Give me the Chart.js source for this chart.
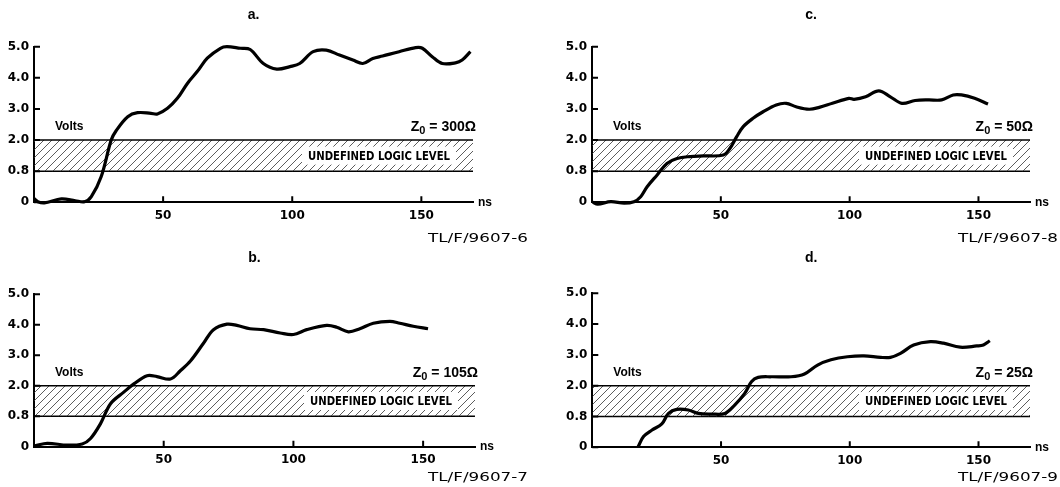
<!DOCTYPE html>
<html>
<head>
<meta charset="utf-8">
<script src="https://cdn.jsdelivr.net/npm/chart.js@4.4.1/dist/chart.umd.min.js"></script>
<style>
  body { margin: 0; background: #fff; width: 1060px; height: 487px; overflow: hidden; }
  .grid { display: grid; grid-template-columns: 530px 530px; grid-template-rows: 243px 244px; }
  canvas { display: block; }
</style>
</head>
<body>
<div class="grid">
  <div><canvas id="pa" width="530" height="243"></canvas></div>
  <div><canvas id="pc" width="530" height="243"></canvas></div>
  <div><canvas id="pb" width="530" height="244"></canvas></div>
  <div><canvas id="pd" width="530" height="244"></canvas></div>
</div>
<script>
// y axis is drawn with evenly spaced rows: 0, 0.8, 2.0, 3.0, 4.0, 5.0 volts
const yTickLabels = ['0', '0.8', '2.0', '3.0', '4.0', '5.0'];
const xTicks = [50, 100, 150];
const xRange = [0, 170];       // ns
const bandRows = [1, 2];       // 0.8 V .. 2.0 V, undefined logic level

// values in row units (row 1 = 0.8 V, row 2 = 2.0 V ...)
// a. Z0 = 300 ohm
const timeA = [0, 1.5, 4, 10.6, 16, 19.6, 22.2, 26, 29.9, 31.8, 36.3, 40.1, 45.3, 47.8, 51.7, 55.5, 59.4, 63.2, 67.1, 72.2, 74.7, 79.9, 83.7, 88.8, 94, 99.1, 102.9, 108.1, 113.2, 118.3, 123.5, 127.3, 131.2, 135, 141.4, 147.8, 150.4, 154.2, 158.1, 163.2, 165.8, 169];
const levelA = [0.12, 0.02, -0.02, 0.11, 0.05, 0.02, 0.18, 0.82, 2.0, 2.3, 2.75, 2.88, 2.86, 2.84, 3.02, 3.34, 3.82, 4.2, 4.63, 4.95, 5.0, 4.95, 4.91, 4.46, 4.28, 4.36, 4.46, 4.84, 4.89, 4.73, 4.57, 4.46, 4.62, 4.7, 4.84, 4.97, 4.95, 4.68, 4.46, 4.48, 4.57, 4.84];

// b. Z0 = 105 ohm
const timeB = [0.4, 5.1, 12.8, 18.6, 21.8, 25.6, 29.5, 34.6, 38.5, 43.6, 47.4, 52.6, 56.4, 60.3, 65.4, 69.2, 74.4, 78.2, 83.3, 88.5, 94.9, 100, 105.1, 112.8, 116.7, 121.2, 125.6, 130.8, 137.2, 141, 146.2, 151.9];
const levelB = [0.03, 0.11, 0.05, 0.09, 0.27, 0.75, 1.41, 1.79, 2.06, 2.33, 2.3, 2.22, 2.49, 2.81, 3.4, 3.84, 4.02, 3.98, 3.87, 3.84, 3.73, 3.68, 3.84, 3.98, 3.92, 3.77, 3.87, 4.05, 4.11, 4.05, 3.95, 3.87];

// c. Z0 = 50 ohm
const timeC = [0.3, 2.2, 7.3, 12.5, 16.3, 18.9, 21.4, 25.3, 29.1, 33, 38.1, 43.3, 51, 53.5, 56.1, 58.7, 62.5, 66.4, 71.5, 75.4, 79.2, 84.3, 88.2, 93.3, 99.7, 101.7, 106.2, 111.3, 115.8, 120.3, 125.4, 130.6, 135.7, 140.2, 143.4, 148.5, 153.7];
const levelC = [0, -0.06, 0.02, -0.03, 0.02, 0.18, 0.5, 0.88, 1.25, 1.41, 1.47, 1.49, 1.52, 1.73, 2.1, 2.43, 2.7, 2.91, 3.13, 3.18, 3.07, 2.99, 3.05, 3.18, 3.34, 3.31, 3.39, 3.58, 3.39, 3.18, 3.27, 3.29, 3.29, 3.45, 3.45, 3.34, 3.16];

// d. Z0 = 25 ohm
const timeD = [17.8, 19.9, 23.2, 27, 29.6, 32.8, 37.3, 41.2, 46.3, 51.5, 55.3, 59.2, 61.8, 64.4, 69.5, 77.2, 82.4, 87.5, 92.7, 99.1, 105.5, 112, 115.8, 119.7, 124.8, 131.3, 136.4, 142.9, 149.3, 151.9, 154.4];
const levelD = [0.02, 0.35, 0.56, 0.76, 1.1, 1.23, 1.21, 1.1, 1.08, 1.1, 1.37, 1.75, 2.13, 2.27, 2.29, 2.29, 2.38, 2.67, 2.84, 2.94, 2.97, 2.92, 2.92, 3.05, 3.32, 3.43, 3.38, 3.25, 3.29, 3.32, 3.46];

const panels = [
  { id: 'pa', title: 'a.', z0: '300Ω', note: 'TL/F/9607-6', time: timeA, level: levelA, pad: { left: 0, top: 46.7, right: 57, bottom: 14.7 }, noteY: 239 },
  { id: 'pc', title: 'c.', z0: '50Ω', note: 'TL/F/9607-8', time: timeC, level: levelC, pad: { left: 28, top: 46.7, right: 30, bottom: 14.7 }, noteY: 239 },
  { id: 'pb', title: 'b.', z0: '105Ω', note: 'TL/F/9607-7', time: timeB, level: levelB, pad: { left: 0, top: 51.3, right: 55, bottom: 14.3 }, noteY: 235 },
  { id: 'pd', title: 'd.', z0: '25Ω', note: 'TL/F/9607-9', time: timeD, level: levelD, pad: { left: 28.3, top: 50.3, right: 30, bottom: 13.7 }, noteY: 235 }
];

const SANS = '"Liberation Sans", Arial, sans-serif';

function hatchPattern(ctx) {
  const c = document.createElement('canvas');
  c.width = c.height = 8;
  const g = c.getContext('2d');
  g.strokeStyle = '#333';
  g.lineWidth = 0.8;
  g.beginPath();
  g.moveTo(0, 8); g.lineTo(8, 0);
  g.moveTo(-1, 1); g.lineTo(1, -1);
  g.moveTo(7, 9); g.lineTo(9, 7);
  g.stroke();
  return ctx.createPattern(c, 'repeat');
}

// draw text squeezed / stretched to a given width
function fitText(ctx, text, x, y, width) {
  const w = ctx.measureText(text).width;
  ctx.save();
  ctx.translate(x, y);
  ctx.scale(width / w, 1);
  ctx.fillText(text, 0, 0);
  ctx.restore();
}

const decor = {
  id: 'decor',
  afterDraw(chart) {
    const p = chart.options.plugins.decor;
    const { ctx, chartArea: a, scales: { x, y } } = chart;
    ctx.save();
    ctx.fillStyle = '#000';
    ctx.strokeStyle = '#000';

    // inward tick marks
    ctx.lineWidth = 2;
    ctx.beginPath();
    yTickLabels.forEach((_, i) => {
      const py = y.getPixelForValue(i);
      ctx.moveTo(a.left, py); ctx.lineTo(a.left + 6, py);
    });
    xTicks.forEach(v => {
      const px = x.getPixelForValue(v);
      ctx.moveTo(px, a.bottom); ctx.lineTo(px, a.bottom - 6);
    });
    ctx.stroke();

    ctx.textBaseline = 'middle';

    // panel letter
    ctx.font = 'bold 14px ' + SANS;
    ctx.textAlign = 'center';
    ctx.fillText(p.title, (a.left + a.right) / 2, 15);

    // Volts / Z0
    const labelY = y.getPixelForValue(bandRows[1]) - 13;
    ctx.textAlign = 'left';
    ctx.font = 'bold 12px ' + SANS;
    ctx.fillText('Volts', a.left + 21, labelY);

    const rest = ' = ' + p.z0;
    ctx.font = 'bold 14px ' + SANS;
    const wZ = ctx.measureText('Z').width;
    const wRest = ctx.measureText(rest).width;
    ctx.font = 'bold 11px ' + SANS;
    const wSub = ctx.measureText('0').width;
    let zx = a.right + 3 - (wZ + wSub + wRest);
    ctx.font = 'bold 14px ' + SANS;
    ctx.fillText('Z', zx, labelY);
    ctx.font = 'bold 11px ' + SANS;
    ctx.fillText('0', zx + wZ, labelY + 4);
    ctx.font = 'bold 14px ' + SANS;
    ctx.fillText(rest, zx + wZ + wSub, labelY);

    // undefined logic level label with white box
    const bandY = (y.getPixelForValue(bandRows[0]) + y.getPixelForValue(bandRows[1])) / 2;
    const tw = 142;
    const tx = a.right - 23 - tw;
    ctx.fillStyle = '#fff';
    ctx.fillRect(tx - 6, bandY - 9, tw + 12, 18);
    ctx.fillStyle = '#000';
    ctx.font = 'bold 13px "Liberation Sans Narrow", "DejaVu Sans Condensed", ' + SANS;
    fitText(ctx, 'UNDEFINED LOGIC LEVEL', tx, bandY + 1, tw);

    // axis unit
    ctx.font = 'bold 12px ' + SANS;
    ctx.fillText('ns', a.right + 5, a.bottom);

    // figure code
    ctx.font = '13px "DejaVu Sans", sans-serif';
    fitText(ctx, p.note, chart.width - 2 - 100, p.noteY, 100);

    ctx.restore();
  }
};

panels.forEach(p => {
  const canvas = document.getElementById(p.id);
  const ctx = canvas.getContext('2d');
  const pattern = hatchPattern(ctx);

  new Chart(ctx, {
    type: 'line',
    data: {
      datasets: [
        {
          data: p.time.map((t, i) => ({ x: t, y: p.level[i] })),
          borderColor: '#000',
          borderWidth: 3.2,
          pointRadius: 0,
          tension: 0.35,
          fill: false,
          clip: false,
          order: 0
        },
        {
          data: xRange.map(t => ({ x: t, y: bandRows[1] })),
          borderColor: '#000',
          borderWidth: 1.6,
          pointRadius: 0,
          backgroundColor: pattern,
          fill: '+1',
          order: 1
        },
        {
          data: xRange.map(t => ({ x: t, y: bandRows[0] })),
          borderColor: '#000',
          borderWidth: 1.6,
          pointRadius: 0,
          fill: false,
          order: 1
        }
      ]
    },
    options: {
      responsive: false,
      animation: false,
      events: [],
      layout: { padding: p.pad },
      plugins: {
        legend: { display: false },
        tooltip: { enabled: false },
        decor: { title: p.title, z0: p.z0, note: p.note, noteY: p.noteY }
      },
      scales: {
        x: {
          type: 'linear',
          min: xRange[0],
          max: xRange[1],
          afterFit: s => { s.height = 26; },
          afterBuildTicks: s => { s.ticks = xTicks.map(v => ({ value: v })); },
          grid: { display: false, drawTicks: false },
          border: { display: true, color: '#000', width: 2 },
          ticks: { color: '#000', padding: 6, maxRotation: 0, font: { family: 'DejaVu Sans', weight: 'bold', size: 12 } }
        },
        y: {
          type: 'linear',
          min: 0,
          max: yTickLabels.length - 1,
          afterFit: s => { s.width = 34; },
          afterBuildTicks: s => { s.ticks = yTickLabels.map((_, i) => ({ value: i })); },
          grid: { display: false, drawTicks: false },
          border: { display: true, color: '#000', width: 2 },
          ticks: {
            color: '#000',
            padding: 5,
            font: { family: 'DejaVu Sans', weight: 'bold', size: 12 },
            callback: v => yTickLabels[v]
          }
        }
      }
    },
    plugins: [decor]
  });
});
</script>
</body>
</html>
